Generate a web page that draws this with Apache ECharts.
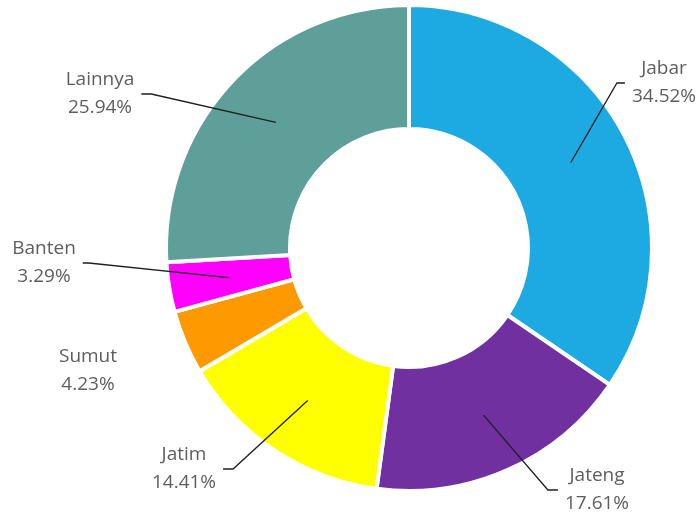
<!DOCTYPE html>
<html>
<head>
<meta charset="utf-8">
<script src="https://cdn.jsdelivr.net/npm/echarts@6/dist/echarts.min.js"></script>
<style>
  html, body { margin: 0; padding: 0; background: #ffffff; }
  #main { width: 700px; height: 514px; }
</style>
</head>
<body>
<div id="main"></div>
<script>
// ---- data ----
const categories = ['Jabar', 'Jateng', 'Jatim', 'Sumut', 'Banten', 'Lainnya'];
const shares = [34.52, 17.61, 14.41, 4.23, 3.29, 25.94];
const colors = ['#1DA9E1', '#7030A0', '#FFFF00', '#FF9900', '#FF00FF', '#5F9F9A'];
const noLeader = ['Sumut'];

// ---- label placement (text block centers) ----
const labelPos = {
  Jabar:   [664, 83],
  Jateng:  [597, 490],
  Jatim:   [184, 469],
  Sumut:   [88, 371],
  Banten:  [44, 263],
  Lainnya: [100, 94]
};
const lineLen2 = { Jabar: 8, Jateng: 10, Jatim: 10, Sumut: 10, Banten: 6, Lainnya: 10 };

const center = [409, 248];

const ringData = categories.map((n, i) => ({
  name: n, value: shares[i], itemStyle: { color: colors[i] }
}));

const labelData = categories.map((n, i) => ({
  name: n, value: shares[i],
  labelLine: { show: noLeader.indexOf(n) < 0, length2: lineLen2[n] }
}));

const chart = echarts.init(document.getElementById('main'), null, { renderer: 'canvas' });
chart.setOption({
  backgroundColor: '#ffffff',
  animation: false,
  series: [
    {
      type: 'pie',
      center: center,
      radius: [119, 243],
      startAngle: 90,
      clockwise: true,
      silent: true,
      data: ringData,
      itemStyle: { borderColor: '#ffffff', borderWidth: 4 },
      label: { show: false },
      labelLine: { show: false },
      emphasis: { disabled: true },
      z: 1
    },
    {
      type: 'pie',
      center: center,
      radius: [0, 183],
      startAngle: 90,
      clockwise: true,
      silent: true,
      data: labelData,
      itemStyle: { color: 'rgba(0,0,0,0)' },
      emphasis: { disabled: true },
      label: {
        show: true,
        position: 'outer',
        formatter: '{b}\n{d}%',
        fontFamily: 'Open Sans',
        fontSize: 19,
        lineHeight: 28,
        color: '#5e5e5e',
        align: 'center',
        padding: [0, 7],
        backgroundColor: 'rgba(255,255,255,0)'
      },
      labelLine: {
        show: true,
        length: 10,
        length2: 10,
        minTurnAngle: 20,
        lineStyle: { color: '#1f1f1f', width: 1.3 }
      },
      labelLayout: function (p) {
        const n = categories[p.dataIndex];
        const pos = labelPos[n];
        return { x: pos[0], y: pos[1], align: 'center', verticalAlign: 'middle' };
      },
      z: 2
    }
  ]
});
</script>
</body>
</html>
